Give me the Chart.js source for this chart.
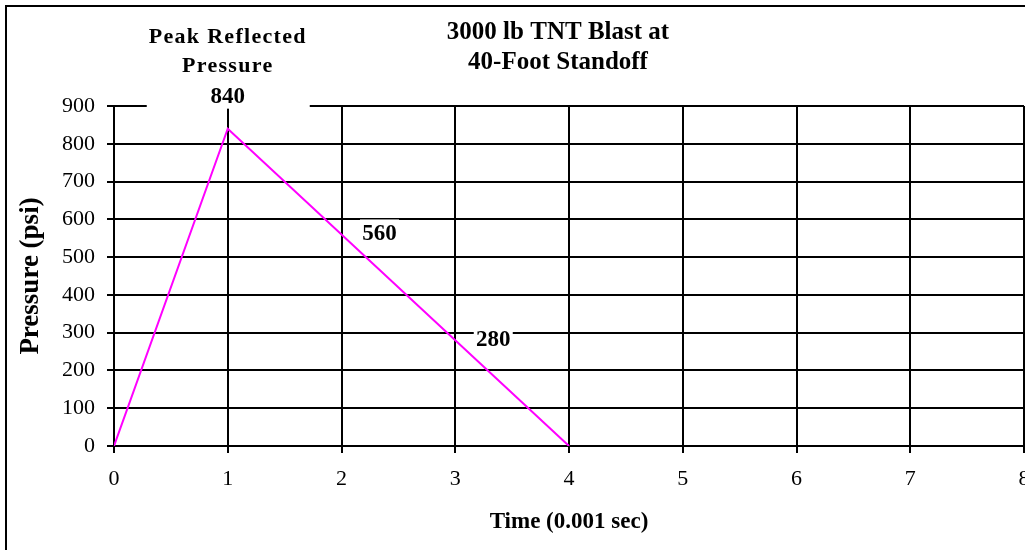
<!DOCTYPE html>
<html>
<head>
<meta charset="utf-8">
<script src="https://cdn.jsdelivr.net/npm/chart.js@4/dist/chart.umd.min.js"></script>
<style>
  html, body { margin: 0; padding: 0; background: #fff; overflow: hidden; }
  #marco { position: absolute; left: 5px; top: 5px; width: 1060px; height: 570px; border: 2px solid #000; }
  #contenedor { position: absolute; left: 0; top: 0; width: 1044px; height: 550px; }
</style>
</head>
<body>
<div id="marco"></div>
<div id="contenedor"><canvas id="graficoPresion"></canvas></div>
<script>
// Datos del gráfico
const tiempos = [0, 1, 4];          // Time (0.001 sec)
const presiones = [0, 840, 0];      // Pressure (psi)

// Etiquetas de valores sobre la curva
const etiquetasTiempo = [1, 2, 3];
const etiquetasPresion = [840, 560, 280];
const etiquetasTexto = ['840', '560', '280'];
const etiquetaPico = ['Peak Reflected', 'Pressure'];

const tituloLineas = ['3000 lb TNT Blast at', '40-Foot Standoff'];
const tituloEjeX = 'Time (0.001 sec)';
const tituloEjeY = 'Pressure (psi)';

const fuente = "'Liberation Serif', 'Times New Roman', serif";

// Plugin para el título y las etiquetas con fondo blanco
const etiquetasPlugin = {
  id: 'etiquetas',
  afterDraw(chart) {
    const ctx = chart.ctx;
    const xs = chart.scales.x;
    const ys = chart.scales.y;
    const area = chart.chartArea;
    ctx.save();
    ctx.textAlign = 'center';
    ctx.textBaseline = 'middle';

    // título
    ctx.fillStyle = '#000';
    ctx.font = 'bold 25px ' + fuente;
    const tx = (area.left + area.right) / 2 - 11;
    tituloLineas.forEach((linea, i) => {
      ctx.fillText(linea, tx, 33 + i * 30);
    });

    // etiqueta del pico
    const px = xs.getPixelForValue(etiquetasTiempo[0]);
    const py = ys.getPixelForValue(etiquetasPresion[0]);
    ctx.fillStyle = '#fff';
    ctx.fillRect(px - 81, 18, 163, py - 20 - 18);
    ctx.fillStyle = '#000';
    ctx.font = 'bold 22px ' + fuente;
    ctx.letterSpacing = '1.3px';
    ctx.fillText(etiquetaPico[0], px, py - 91);
    ctx.fillText(etiquetaPico[1], px, py - 62);
    ctx.letterSpacing = '0px';
    ctx.font = 'bold 23px ' + fuente;
    ctx.fillText(etiquetasTexto[0], px, py - 32);

    // etiquetas 560 y 280
    for (let i = 1; i < etiquetasTexto.length; i++) {
      const x = xs.getPixelForValue(etiquetasTiempo[i]) + 38;
      const y = ys.getPixelForValue(etiquetasPresion[i]);
      ctx.fillStyle = '#fff';
      ctx.fillRect(x - 19.5, y - 15, 39, 28);
      ctx.fillStyle = '#000';
      ctx.fillText(etiquetasTexto[i], x, y);
    }
    ctx.restore();
  }
};

const data = {
  datasets: [{
    label: 'Pressure',
    data: tiempos.map((t, i) => ({ x: t, y: presiones[i] })),
    borderColor: '#ff00ff',
    borderWidth: 2,
    pointRadius: 0,
    tension: 0,
    fill: false
  }]
};

const config = {
  type: 'line',
  data: data,
  options: {
    responsive: true,
    maintainAspectRatio: false,
    animation: false,
    layout: { padding: { top: 106, right: 20, bottom: 0, left: 0 } },
    plugins: {
      legend: { display: false },
      tooltip: { enabled: false },
      title: { display: false }
    },
    scales: {
      x: {
        type: 'linear',
        min: 0,
        max: 8,
        afterFit: (scale) => { scale.height = 104; },
        ticks: {
          stepSize: 1,
          color: '#000',
          padding: 13,
          maxRotation: 0,
          font: { family: fuente, size: 22 }
        },
        grid: { color: '#000', lineWidth: 2, tickLength: 7, tickColor: '#000' },
        border: { color: '#000', width: 2 },
        title: {
          display: true,
          text: tituloEjeX,
          color: '#000',
          padding: { top: 0, bottom: 14 },
          font: { family: fuente, size: 23, weight: 'bold' }
        }
      },
      y: {
        min: 0,
        max: 900,
        afterFit: (scale) => { scale.width = 114; },
        ticks: {
          stepSize: 100,
          color: '#000',
          padding: 12,
          font: { family: fuente, size: 22 }
        },
        grid: { color: '#000', lineWidth: 2, tickLength: 7, tickColor: '#000' },
        border: { color: '#000', width: 2 },
        title: {
          display: true,
          text: tituloEjeY,
          color: '#000',
          padding: { top: 15, bottom: 0 },
          font: { family: fuente, size: 27, weight: 'bold' }
        }
      }
    }
  },
  plugins: [etiquetasPlugin]
};

new Chart(document.getElementById('graficoPresion').getContext('2d'), config);
</script>
</body>
</html>
